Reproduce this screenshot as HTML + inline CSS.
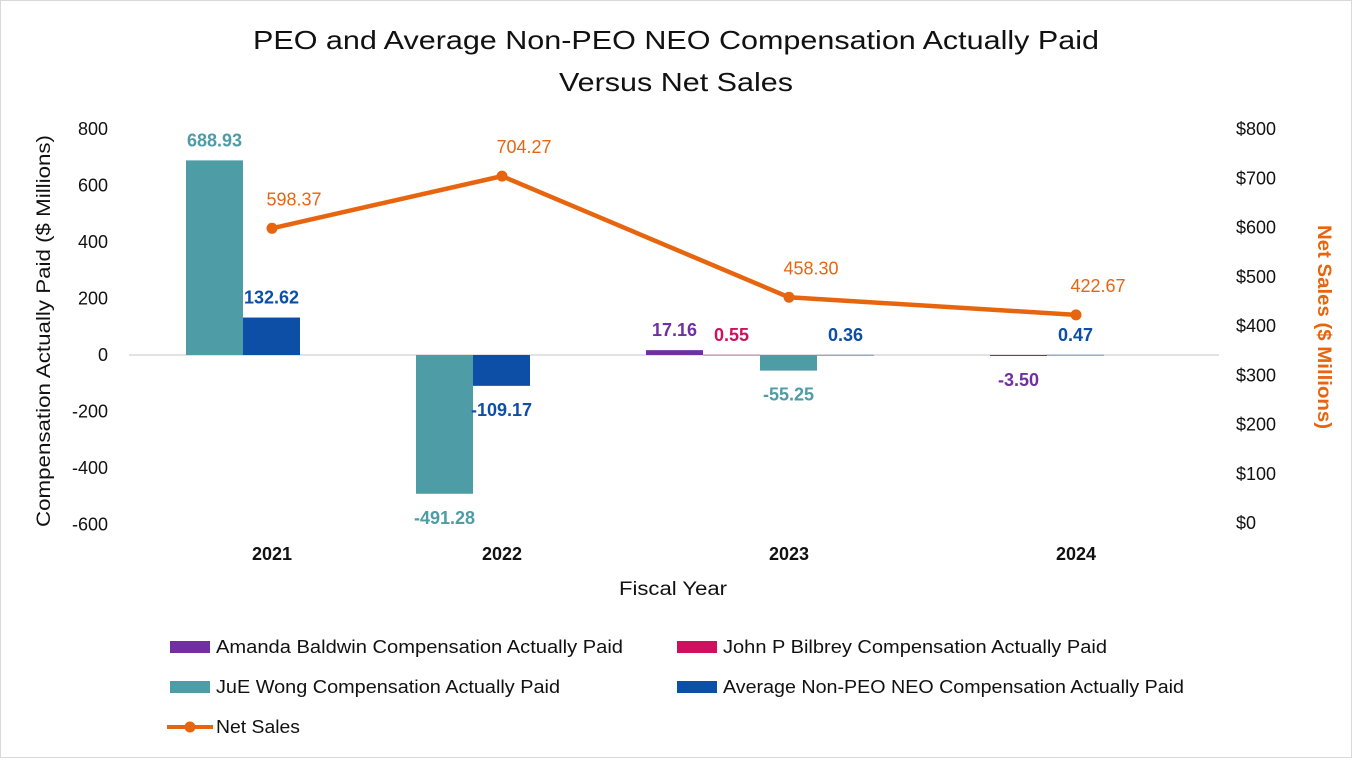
<!DOCTYPE html>
<html><head><meta charset="utf-8"><style>
body{margin:0;background:#fff;font-family:"Liberation Sans",sans-serif}
#wrap{width:1350px;height:756px;border:1px solid #d9d9d9;position:relative}
</style></head><body>
<div id="wrap">
<svg id="chart" width="1350" height="756" font-family="Liberation Sans, sans-serif"></svg>
</div>
<script>
const categories=["2021","2022","2023","2024"];
const amanda=[null,null,17.16,-3.50];
const john=[null,null,0.55,null];
const jue=[688.93,-491.28,-55.25,null];
const avgNeo=[132.62,-109.17,0.36,0.47];
const netSales=[598.37,704.27,458.30,422.67];
const leftTicks=[800,600,400,200,0,-200,-400,-600];
const rightTicks=[0,100,200,300,400,500,600,700,800];

const NS="http://www.w3.org/2000/svg";
const svg=document.getElementById('chart');
function el(t,a,txt){const e=document.createElementNS(NS,t);for(const k in a)e.setAttribute(k,a[k]);if(txt!=null)e.textContent=txt;svg.appendChild(e);return e;}
const yL=v=>354-v*0.2825;
const yR=v=>522-v*0.4925;
function xC(i){const centers=[271,501,788,1075];return centers[i];}
const BW=57;
const series=[
 {name:"Amanda Baldwin  Compensation Actually Paid",vals:amanda,color:"#7030a0",len:407},
 {name:"John P Bilbrey Compensation Actually Paid",vals:john,color:"#d0105f",len:384},
 {name:"JuE Wong Compensation Actually Paid",vals:jue,color:"#4e9ca6",len:344},
 {name:"Average Non-PEO NEO Compensation Actually Paid",vals:avgNeo,color:"#0d4ea6",len:461}];

let t=el('text',{x:675,y:48,'text-anchor':'middle','font-size':26,fill:'#111',textLength:846,lengthAdjust:'spacingAndGlyphs'},'PEO and Average Non-PEO NEO Compensation Actually Paid');

t=el('text',{x:675,y:90,'text-anchor':'middle','font-size':26,fill:'#111',textLength:234,lengthAdjust:'spacingAndGlyphs'},'Versus Net Sales');


leftTicks.forEach(v=>{const e=el('text',{x:107,y:yL(v)+6,'text-anchor':'end','font-size':18,fill:'#111'},String(v));
});
rightTicks.forEach(v=>{const e=el('text',{x:1235,y:yR(v)+6,'font-size':18,fill:'#111'},'$'+v);
});
let z=el('line',{x1:128,x2:1218,y1:yL(0),y2:yL(0),stroke:'#d9d9d9','stroke-width':1.5});


categories.forEach((c,i)=>{
 const present=series.filter(s=>s.vals[i]!=null);
 const gc=xC(i)-29;
 const start=gc-present.length*BW/2;
 present.forEach((s,k)=>{
  const v=s.vals[i];const x=start+k*BW;
  const y0=yL(Math.max(v,0)),y1=yL(Math.min(v,0));
  const r=el('rect',{x:x,y:y0,width:BW,height:Math.max(y1-y0,0.5),fill:s.color});
  
  const ly=v>=0?y0-14:y1+30;
  const lb=el('text',{x:x+BW/2,y:ly,'text-anchor':'middle','font-size':18,'font-weight':'bold',fill:s.color},v.toFixed(2));
  
 });
 const cl=el('text',{x:xC(i),y:559,'text-anchor':'middle','font-size':18,'font-weight':'bold',fill:'#111'},c);
 
});

const pts=netSales.map((v,i)=>xC(i)+','+yR(v)).join(' ');
const pl=el('polyline',{points:pts,fill:'none',stroke:'#e8650f','stroke-width':4.5});

netSales.forEach((v,i)=>{
 const p=el('circle',{cx:xC(i),cy:yR(v),r:5.5,fill:'#e8650f'});
 
 const l=el('text',{x:xC(i)+22,y:yR(v)-23,'text-anchor':'middle','font-size':18,fill:'#e8650f'},v.toFixed(2));
 
});

let a=el('text',{x:672,y:594,'text-anchor':'middle','font-size':19,fill:'#111',textLength:108,lengthAdjust:'spacingAndGlyphs'},'Fiscal Year');

a=el('text',{x:0,y:0,'text-anchor':'middle','font-size':19,fill:'#111',transform:'translate(49,330) rotate(-90)',textLength:392,lengthAdjust:'spacingAndGlyphs'},'Compensation Actually Paid ($ Millions)');

a=el('text',{x:0,y:0,'text-anchor':'middle','font-size':19,'font-weight':'bold',fill:'#e8650f',transform:'translate(1317,326) rotate(90)',textLength:204,lengthAdjust:'spacingAndGlyphs'},'Net Sales ($ Millions)');


const legPos=[[169,646],[676,646],[169,686],[676,686]];
series.forEach((s,k)=>{
 const [x,y]=legPos[k];
 const r=el('rect',{x:x,y:y-6,width:40,height:12,fill:s.color});
 
 const tx=el('text',{x:x+46,y:y+6,'font-size':18,fill:'#111',textLength:s.len,lengthAdjust:'spacingAndGlyphs'},s.name);
 
});
let ll=el('line',{x1:166,x2:212,y1:726,y2:726,stroke:'#e8650f','stroke-width':4});

ll=el('circle',{cx:189,cy:726,r:5.5,fill:'#e8650f'});

ll=el('text',{x:215,y:732,'font-size':18,fill:'#111',textLength:84,lengthAdjust:'spacingAndGlyphs'},'Net Sales');

</script>
</body></html>
